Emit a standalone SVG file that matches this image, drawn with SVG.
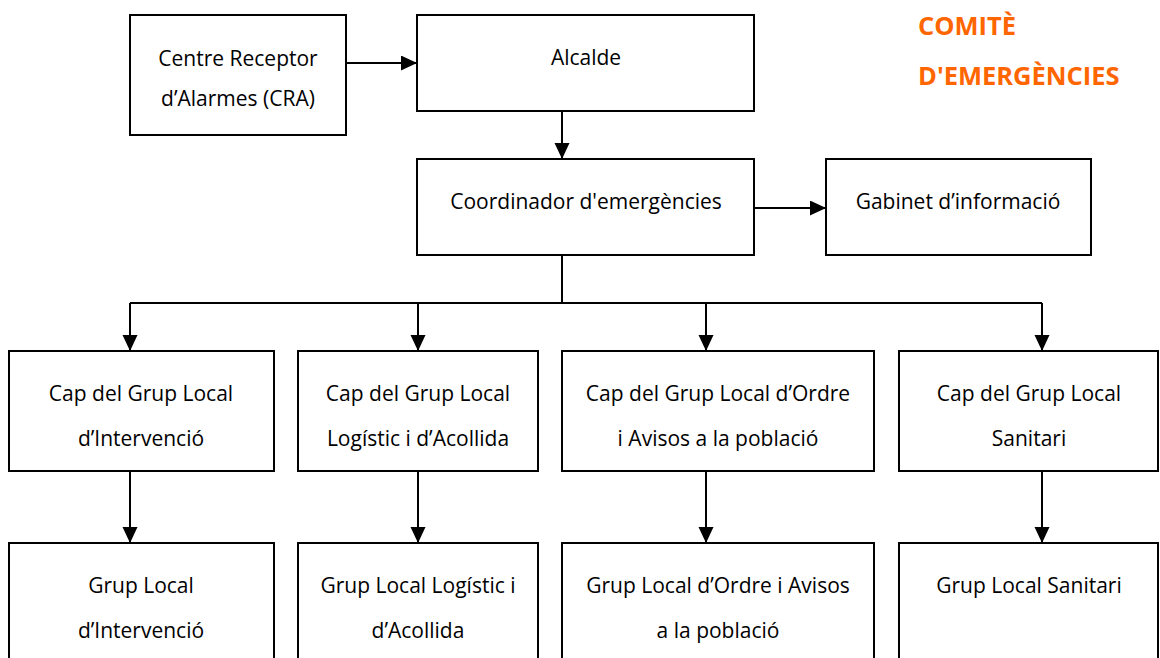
<svg xmlns="http://www.w3.org/2000/svg" width="1160" height="658" viewBox="0 0 1160 658">
  <style>
    .box { fill: #ffffff; stroke: #000000; stroke-width: 2; }
    .lbl { font-family: "Open Sans", "Liberation Sans", sans-serif; font-size: 21px; fill: #000000; text-anchor: middle; }
    .title { font-family: "Open Sans", "Liberation Sans", sans-serif; font-size: 25.5px; font-weight: bold; fill: #FF6600; }
    .con { fill: none; stroke: #000000; stroke-width: 2; }
    .arr { marker-end: url(#ah); }
  </style>
  <defs>
    <marker id="ah" markerUnits="userSpaceOnUse" markerWidth="17" markerHeight="16" refX="16" refY="7.5" orient="auto">
      <path d="M0,0 L16,7.5 L0,15 Z" fill="#000000"/>
    </marker>
  </defs>
  <rect width="1160" height="658" fill="#ffffff"/>

  <g id="title">
    <text class="title" x="918" y="35">COMITÈ</text>
    <text class="title" x="918" y="85">D'EMERGÈNCIES</text>
  </g>

  <g id="connectors">
    <line class="con arr" x1="346" y1="63" x2="417" y2="63"/>
    <line class="con arr" x1="562" y1="111" x2="562" y2="159"/>
    <line class="con arr" x1="754" y1="208" x2="826" y2="208"/>
    <polyline class="con" points="562,255 562,303"/>
    <polyline class="con" points="130,303 1042,303"/>
    <line class="con arr" x1="130" y1="303" x2="130" y2="351"/>
    <line class="con arr" x1="418" y1="303" x2="418" y2="351"/>
    <line class="con arr" x1="706" y1="303" x2="706" y2="351"/>
    <line class="con arr" x1="1042" y1="303" x2="1042" y2="351"/>
    <line class="con arr" x1="130" y1="471" x2="130" y2="543"/>
    <line class="con arr" x1="418" y1="471" x2="418" y2="543"/>
    <line class="con arr" x1="706" y1="471" x2="706" y2="543"/>
    <line class="con arr" x1="1042" y1="471" x2="1042" y2="543"/>
  </g>

  <g id="cra">
    <rect class="box" x="130" y="15" width="216" height="120"/>
    <text class="lbl" x="238" y="66">Centre Receptor</text>
    <text class="lbl" x="238" y="106">d’Alarmes (CRA)</text>
  </g>
  <g id="alcalde">
    <rect class="box" x="417" y="15" width="337" height="96"/>
    <text class="lbl" x="586" y="65">Alcalde</text>
  </g>
  <g id="coordinador">
    <rect class="box" x="417" y="159" width="337" height="96"/>
    <text class="lbl" x="586" y="209">Coordinador d'emergències</text>
  </g>
  <g id="gabinet">
    <rect class="box" x="826" y="159" width="265" height="96"/>
    <text class="lbl" x="958" y="209">Gabinet d’informació</text>
  </g>

  <g id="cap-intervencio">
    <rect class="box" x="9" y="351" width="265" height="120"/>
    <text class="lbl" x="141" y="401">Cap del Grup Local</text>
    <text class="lbl" x="141" y="446">d’Intervenció</text>
  </g>
  <g id="cap-logistic">
    <rect class="box" x="298" y="351" width="240" height="120"/>
    <text class="lbl" x="418" y="401">Cap del Grup Local</text>
    <text class="lbl" x="418" y="446">Logístic i d’Acollida</text>
  </g>
  <g id="cap-ordre">
    <rect class="box" x="562" y="351" width="312" height="120"/>
    <text class="lbl" x="718" y="401">Cap del Grup Local d’Ordre</text>
    <text class="lbl" x="718" y="446">i Avisos a la població</text>
  </g>
  <g id="cap-sanitari">
    <rect class="box" x="899" y="351" width="259" height="120"/>
    <text class="lbl" x="1029" y="401">Cap del Grup Local</text>
    <text class="lbl" x="1029" y="446">Sanitari</text>
  </g>

  <g id="grup-intervencio">
    <rect class="box" x="9" y="543" width="265" height="130"/>
    <text class="lbl" x="141" y="593">Grup Local</text>
    <text class="lbl" x="141" y="638">d’Intervenció</text>
  </g>
  <g id="grup-logistic">
    <rect class="box" x="298" y="543" width="240" height="130"/>
    <text class="lbl" x="418" y="593">Grup Local Logístic i</text>
    <text class="lbl" x="418" y="638">d’Acollida</text>
  </g>
  <g id="grup-ordre">
    <rect class="box" x="562" y="543" width="312" height="130"/>
    <text class="lbl" x="718" y="593">Grup Local d’Ordre i Avisos</text>
    <text class="lbl" x="718" y="638">a la població</text>
  </g>
  <g id="grup-sanitari">
    <rect class="box" x="899" y="543" width="259" height="130"/>
    <text class="lbl" x="1029" y="593">Grup Local Sanitari</text>
  </g>
</svg>
